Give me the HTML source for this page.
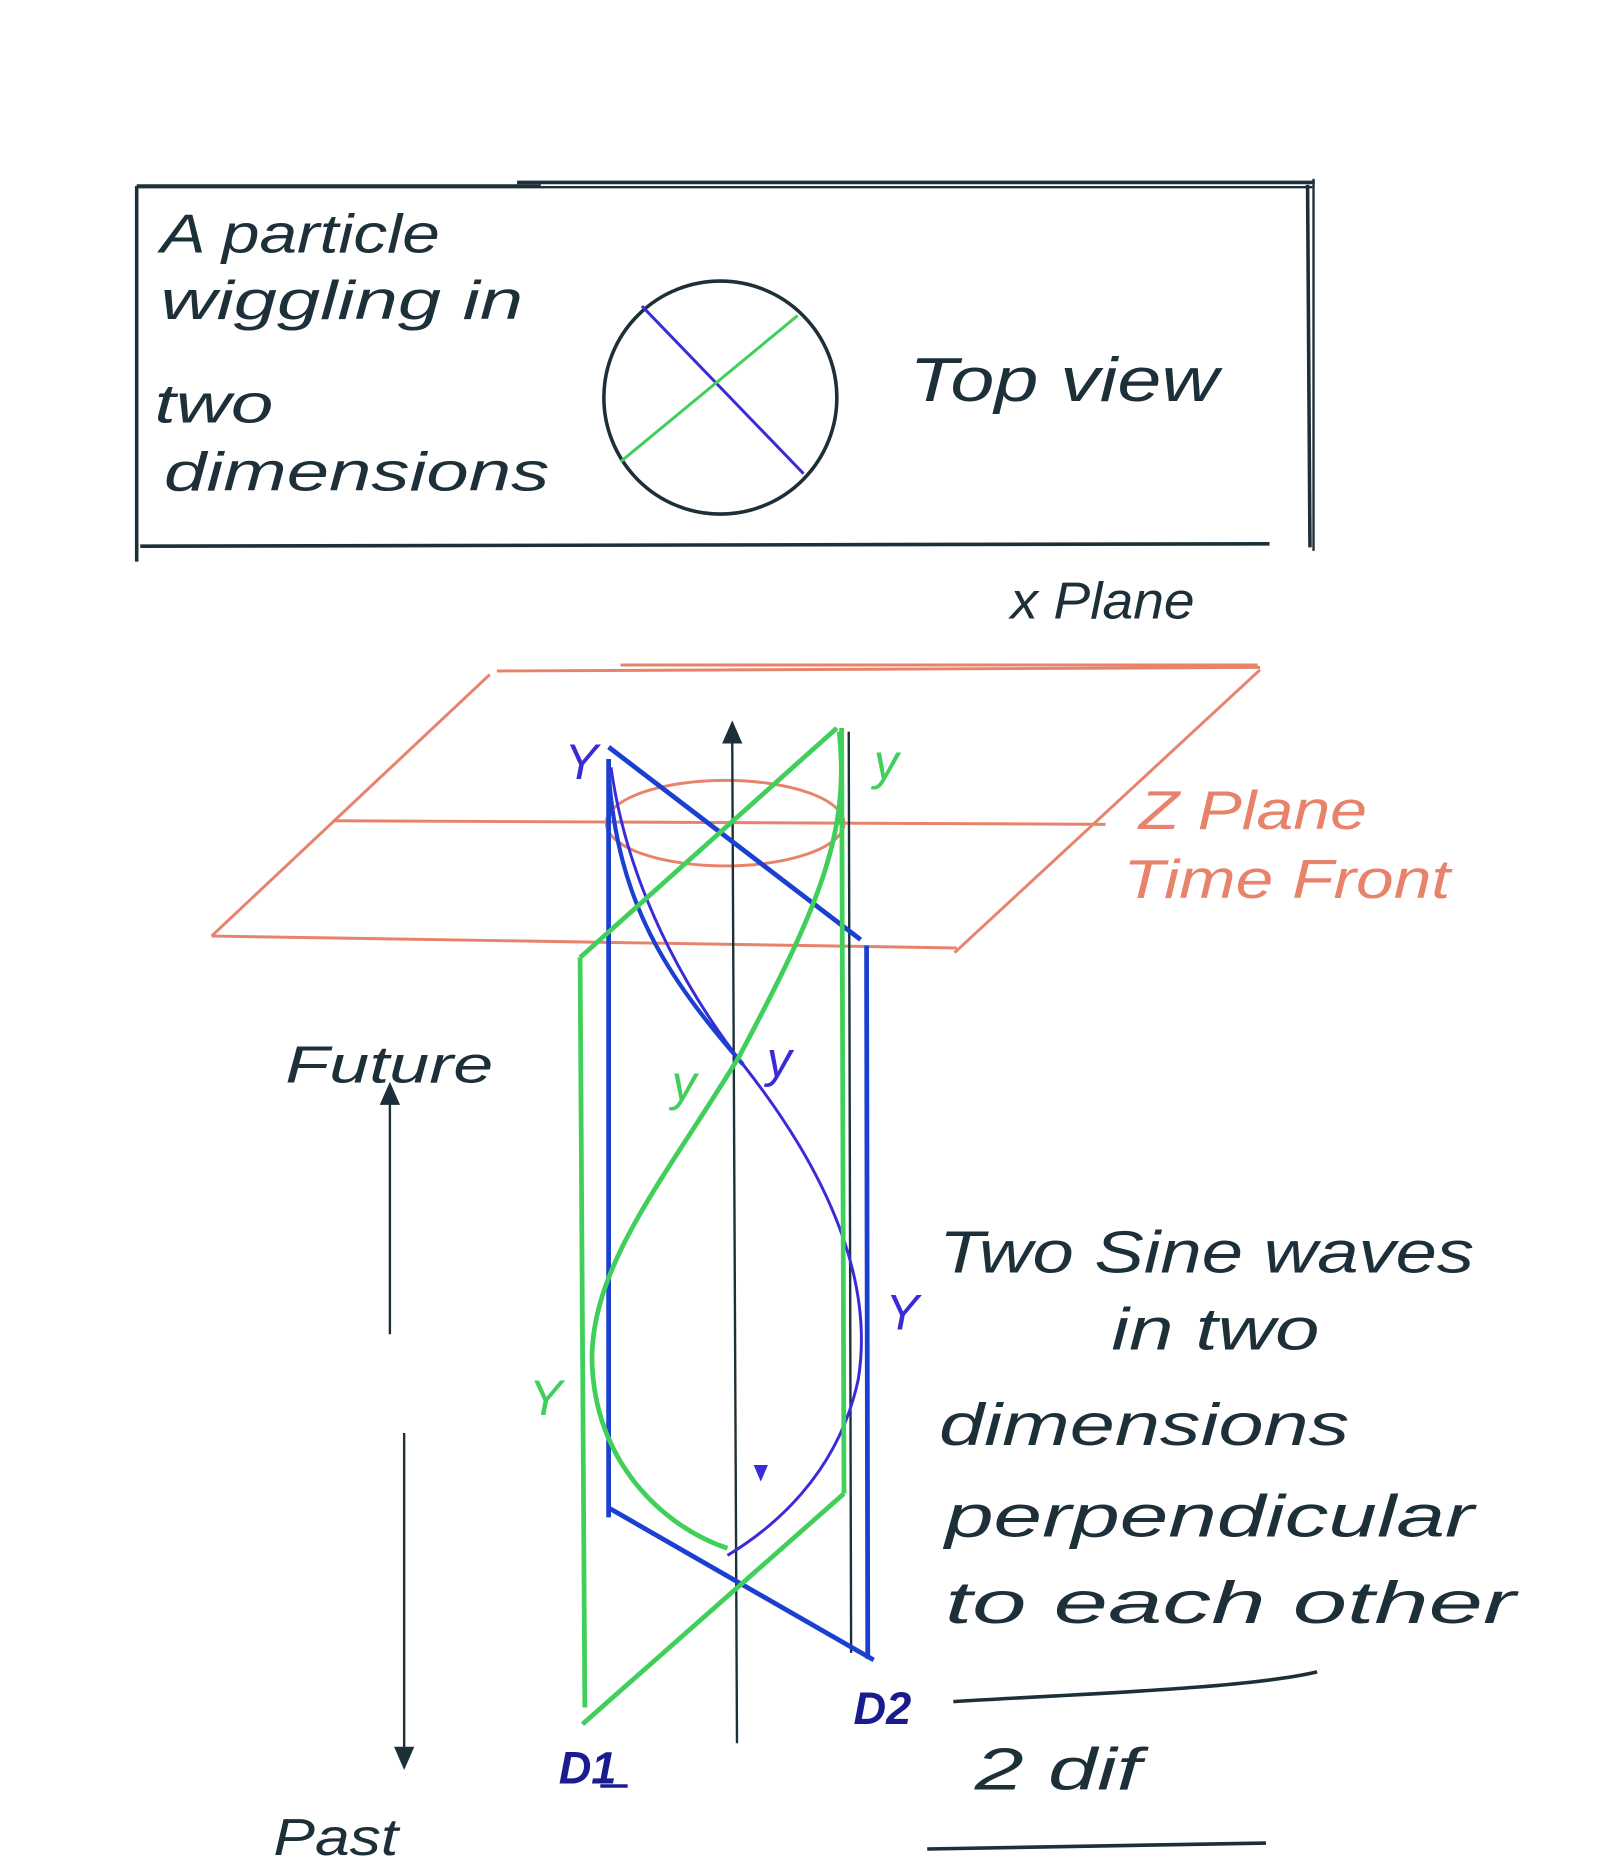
<!DOCTYPE html>
<html><head><meta charset="utf-8"><style>
html,body{margin:0;padding:0;background:#fff;}
svg{display:block;}
text{font-family:"Liberation Sans",sans-serif;font-style:italic;}
</style></head><body>
<svg width="1600" height="1865" viewBox="0 0 1346 1568" xmlns="http://www.w3.org/2000/svg">
<g fill="none" stroke="#1d2f38" stroke-width="3">
<line x1="115" y1="156" x2="455" y2="156"/>
<line x1="435" y1="153" x2="1106" y2="153"/>
<line x1="115" y1="157" x2="1104" y2="157" stroke-width="2"/>
<line x1="115" y1="156" x2="115" y2="472"/>
<line x1="118" y1="459" x2="1068" y2="457"/>
<line x1="1100" y1="155" x2="1102" y2="460"/>
<line x1="1105" y1="150" x2="1105" y2="463" stroke-width="2"/>
</g>
<g fill="#1d2f38" font-size="46" lengthAdjust="spacingAndGlyphs">
<text x="135" y="212" textLength="235" lengthAdjust="spacingAndGlyphs">A particle</text>
<text x="135" y="268" textLength="305" lengthAdjust="spacingAndGlyphs">wiggling in</text>
<text x="130" y="355" textLength="100" lengthAdjust="spacingAndGlyphs">two</text>
<text x="138" y="412" textLength="324" lengthAdjust="spacingAndGlyphs">dimensions</text>
<text x="765" y="337" font-size="52" textLength="260" lengthAdjust="spacingAndGlyphs">Top view</text>
<text x="850" y="520" font-size="44" textLength="155" lengthAdjust="spacingAndGlyphs">x Plane</text>
</g>
<circle cx="606" cy="334" r="98" fill="none" stroke="#1d2f38" stroke-width="3"/>
<line x1="540" y1="257" x2="676" y2="398" stroke="#3a2bd8" stroke-width="2.5"/>
<line x1="522" y1="388" x2="671" y2="265" stroke="#3fcf5a" stroke-width="2.5"/>

<g fill="none" stroke="#e8836b" stroke-width="2.5">
<line x1="418" y1="564" x2="1060" y2="561"/>
<line x1="522" y1="559" x2="1058" y2="559"/>
<line x1="412" y1="567" x2="178" y2="787"/>
<line x1="178" y1="787" x2="805" y2="797"/>
<line x1="1060" y1="563" x2="803" y2="801"/>
<line x1="280" y1="690" x2="930" y2="693"/>
<ellipse cx="610" cy="692" rx="100" ry="36"/>
</g>
<g fill="#e8836b" font-size="46">
<text x="958" y="697" textLength="192" lengthAdjust="spacingAndGlyphs">Z Plane</text>
<text x="945" y="755" textLength="275" lengthAdjust="spacingAndGlyphs">Time Front</text>
</g>

<g stroke="#1d2f38" stroke-width="2" fill="#1d2f38">
<line x1="616" y1="622" x2="620" y2="1466"/>
<polygon points="609,624 616,608 623,624"/>
<line x1="714" y1="615" x2="716" y2="1390"/>
</g>

<g fill="none" stroke="#1b3fd0" stroke-width="4">
<line x1="512" y1="628" x2="724" y2="790"/>
<line x1="512" y1="638" x2="512" y2="1276"/>
<line x1="729" y1="795" x2="730" y2="1395"/>
<line x1="512" y1="1268" x2="735" y2="1396"/>
<path d="M514,645 C530,760 590,850 625,895 C700,990 735,1080 722,1160 C705,1240 650,1285 612,1308" stroke="#3a2bd8" stroke-width="2.5"/>
<path d="M512,650 C520,760 560,820 625,895" stroke-width="3.5"/>
</g>
<polygon points="634,1232 646,1232 640,1246" fill="#3a2bd8"/>

<g fill="none" stroke="#3fcf5a" stroke-width="4">
<line x1="704" y1="612" x2="488" y2="805"/>
<line x1="488" y1="805" x2="492" y2="1436"/>
<line x1="708" y1="612" x2="710" y2="1256"/>
<line x1="710" y1="1256" x2="490" y2="1450"/>
<path d="M706,615 C715,700 690,760 622,888 C560,990 500,1060 498,1140 C498,1230 560,1285 612,1302"/>
</g>

<g font-size="42">
<text x="475" y="655" fill="#3a2bd8">Y</text>
<text x="735" y="655" fill="#3fcf5a">y</text>
<text x="565" y="925" fill="#3fcf5a">y</text>
<text x="645" y="905" fill="#3a2bd8">y</text>
<text x="745" y="1118" fill="#3a2bd8">Y</text>
<text x="445" y="1190" fill="#3fcf5a">Y</text>
<text x="470" y="1500" fill="#1b1b90" font-weight="bold" font-size="38">D1</text>
<text x="718" y="1450" fill="#1b1b90" font-weight="bold" font-size="38">D2</text>
</g>
<line x1="505" y1="1502" x2="528" y2="1502" stroke="#1b1b90" stroke-width="3"/>

<g stroke="#1d2f38" stroke-width="2" fill="#1d2f38">
<line x1="328" y1="1122" x2="328" y2="925"/>
<polygon points="321,928 328,912 335,928"/>
<line x1="340" y1="1205" x2="340" y2="1472"/>
<polygon points="333,1470 340,1486 347,1470"/>
</g>
<g fill="#1d2f38" font-size="44">
<text x="240" y="910" textLength="175" lengthAdjust="spacingAndGlyphs">Future</text>
<text x="230" y="1560" textLength="105" lengthAdjust="spacingAndGlyphs">Past</text>
</g>

<g fill="#1d2f38" font-size="50">
<text x="790" y="1070" textLength="450" lengthAdjust="spacingAndGlyphs">Two  Sine  waves</text>
<text x="935" y="1135" textLength="175" lengthAdjust="spacingAndGlyphs">in two</text>
<text x="790" y="1215" textLength="345" lengthAdjust="spacingAndGlyphs">dimensions</text>
<text x="795" y="1292" textLength="445" lengthAdjust="spacingAndGlyphs">perpendicular</text>
<text x="795" y="1365" textLength="480" lengthAdjust="spacingAndGlyphs">to  each  other</text>
<text x="820" y="1505" textLength="140" lengthAdjust="spacingAndGlyphs">2 dif</text>
</g>
<path d="M802,1431 C900,1425 1050,1420 1108,1406" stroke="#1d2f38" stroke-width="3" fill="none"/>
<line x1="780" y1="1555" x2="1065" y2="1550" stroke="#1d2f38" stroke-width="3"/>
</svg>
</body></html>
